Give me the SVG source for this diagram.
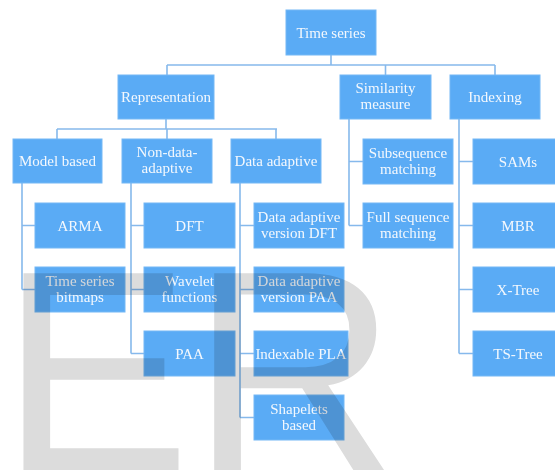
<svg xmlns="http://www.w3.org/2000/svg" width="555" height="470" viewBox="0 0 555 470">
<style>
.box{fill:#5aabf5;stroke:#74b8f5;stroke-width:1}
.t{font-family:"Liberation Serif","Times New Roman",serif;font-size:15px;fill:#f4f8fd;text-anchor:middle}
.c{fill:none;stroke:#86b9ec;stroke-width:1.6}
.wm{font-family:"Liberation Sans",Arial,sans-serif;font-size:286px;fill:#dcdcdc;mix-blend-mode:multiply}
</style>
<rect width="555" height="470" fill="#ffffff"/>
<g id="connectors" class="c">
<path d="M331,55V65M167,65H495M167,65V75M385.5,65V75M495,65V75"/>
<path d="M166,119V129M57,129H277M57,129V139M167,129V139M276,129V139"/>
<path d="M22,183V289.5M22,225.5H35M22,289.5H35"/>
<path d="M131,183V353.5M131,225.5H144M131,289.5H144M131,353.5H144"/>
<path d="M240,183V417.5M240,225.5H254M240,289.5H254M240,353.5H254M240,417.5H254"/>
<path d="M349,119V225.5M349,161.5H363M349,225.5H363"/>
<path d="M459,119V353.5M459,161.5H473M459,225.5H473M459,289.5H473M459,353.5H473"/>
</g>
<g id="time-series"><rect class="box" x="286" y="10" width="90" height="45"/><text class="t" x="331" y="37.5">Time series</text></g>
<g id="representation"><rect class="box" x="118" y="75" width="96" height="44"/><text class="t" x="166" y="102">Representation</text></g>
<g id="similarity"><rect class="box" x="340" y="75" width="91" height="44"/><text class="t" x="385.5" y="93">Similarity</text><text class="t" x="385.5" y="109">measure</text></g>
<g id="indexing"><rect class="box" x="450" y="75" width="90" height="44"/><text class="t" x="495" y="102">Indexing</text></g>
<g id="model-based"><rect class="box" x="13" y="139" width="89" height="44"/><text class="t" x="57.5" y="166">Model based</text></g>
<g id="non-data-adaptive"><rect class="box" x="122" y="139" width="90" height="44"/><text class="t" x="167" y="157">Non-data-</text><text class="t" x="167" y="173">adaptive</text></g>
<g id="data-adaptive"><rect class="box" x="231" y="139" width="90" height="44"/><text class="t" x="276" y="166">Data adaptive</text></g>
<g id="arma"><rect class="box" x="35" y="203" width="90" height="45"/><text class="t" x="80" y="230.5">ARMA</text></g>
<g id="ts-bitmaps"><rect class="box" x="35" y="267" width="90" height="45"/><text class="t" x="80" y="285.5">Time series</text><text class="t" x="80" y="301.5">bitmaps</text></g>
<g id="dft"><rect class="box" x="144" y="203" width="91" height="45"/><text class="t" x="189.5" y="230.5">DFT</text></g>
<g id="wavelet"><rect class="box" x="144" y="267" width="91" height="45"/><text class="t" x="189.5" y="285.5">Wavelet</text><text class="t" x="189.5" y="301.5">functions</text></g>
<g id="paa"><rect class="box" x="144" y="331" width="91" height="45"/><text class="t" x="189.5" y="358.5">PAA</text></g>
<g id="da-dft"><rect class="box" x="254" y="203" width="90" height="45"/><text class="t" x="299" y="221.5">Data adaptive</text><text class="t" x="299" y="237.5">version DFT</text></g>
<g id="da-paa"><rect class="box" x="254" y="267" width="90" height="45"/><text class="t" x="299" y="285.5">Data adaptive</text><text class="t" x="299" y="301.5">version PAA</text></g>
<g id="indexable-pla"><rect class="box" x="254" y="331" width="94" height="45"/><text class="t" x="301" y="358.5">Indexable PLA</text></g>
<g id="shapelets"><rect class="box" x="254" y="395" width="90" height="45"/><text class="t" x="299" y="413.5">Shapelets</text><text class="t" x="299" y="429.5">based</text></g>
<g id="subsequence"><rect class="box" x="363" y="139" width="90" height="45"/><text class="t" x="408" y="157.5">Subsequence</text><text class="t" x="408" y="173.5">matching</text></g>
<g id="full-sequence"><rect class="box" x="363" y="203" width="90" height="45"/><text class="t" x="408" y="221.5">Full sequence</text><text class="t" x="408" y="237.5">matching</text></g>
<g id="sams"><rect class="box" x="473" y="139" width="90" height="45"/><text class="t" x="518" y="166.5">SAMs</text></g>
<g id="mbr"><rect class="box" x="473" y="203" width="90" height="45"/><text class="t" x="518" y="230.5">MBR</text></g>
<g id="x-tree"><rect class="box" x="473" y="267" width="90" height="45"/><text class="t" x="518" y="294.5">X-Tree</text></g>
<g id="ts-tree"><rect class="box" x="473" y="331" width="90" height="45"/><text class="t" x="518" y="358.5">TS-Tree</text></g>
<text class="wm" x="0" y="470">ER</text>
</svg>
